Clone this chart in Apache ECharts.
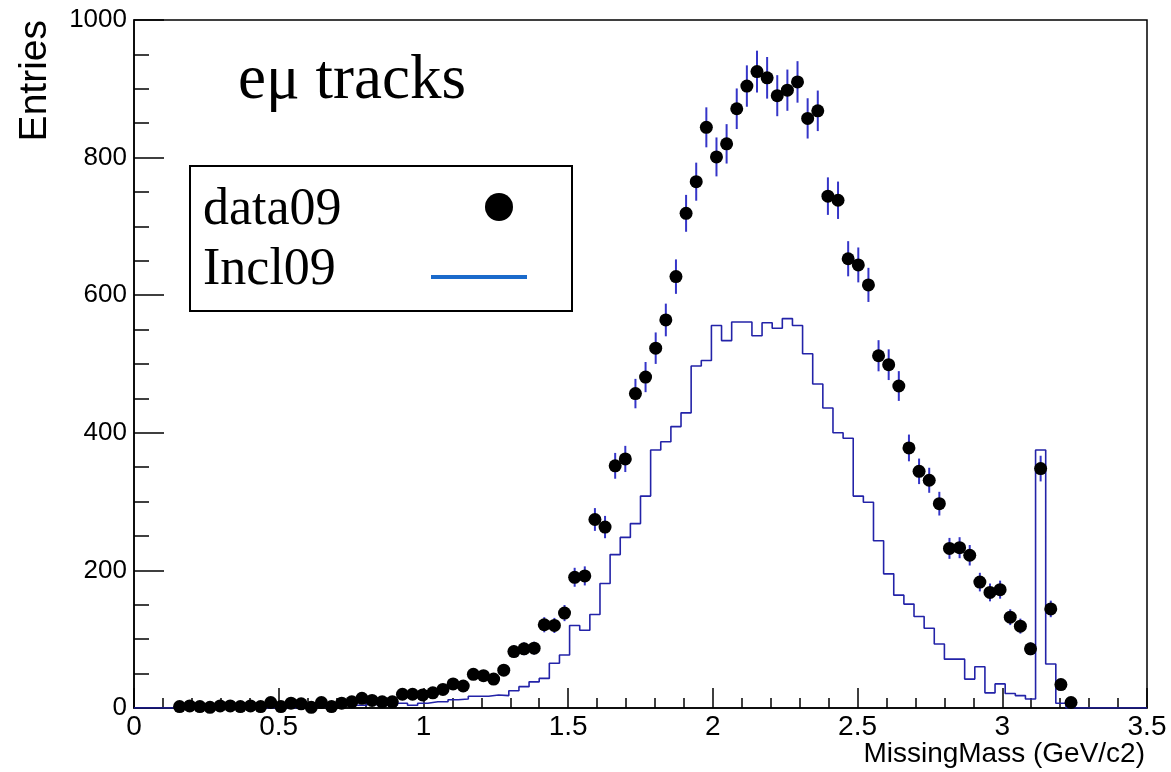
<!DOCTYPE html>
<html>
<head>
<meta charset="utf-8">
<script src="https://cdn.jsdelivr.net/npm/echarts@6/dist/echarts.min.js"></script>
<style>
  html, body { margin: 0; padding: 0; background: #fff; }
  #chart { width: 1171px; height: 772px; }
</style>
</head>
<body>
<div id="chart"></div>
<script>
// 100 bins of 0.035 GeV/c2 from 0 to 3.5
var binWidth = 0.035;

// Incl09 histogram, one value per bin (bins 0..99)
var histCounts = [
  0, 0, 0, 0, 0, 0, 0, 0, 0, 0,
  0, 0, 0, 0, 0, 0, 0, 1, 1, 3,
  4, 4, 4, 7, 4, 4, 7, 4, 7, 9,
  9, 12, 13, 17, 17, 19, 18, 25, 31, 38,
  43, 65, 77, 120, 113, 136, 181, 223, 248, 268,
  308, 375, 387, 409, 429, 497, 505, 556, 534, 561,
  561, 541, 560, 552, 566, 556, 515, 471, 436, 400,
  392, 308, 299, 243, 195, 164, 151, 133, 116, 93,
  71, 71, 42, 60, 22, 35, 21, 18, 13, 375,
  64, 7, 0, 0, 0, 0, 0, 0, 0, 0
];

// data09 points, bins 4..92
var dataFirstBin = 4;
var dataCounts = [
  2, 3, 2, 1, 3, 3, 2, 3, 2, 8,
  2, 7, 6, 1, 8, 2, 7, 9, 14, 11,
  9, 9, 20, 20, 19, 22, 27, 35, 32, 49,
  47, 42, 55, 82, 86, 87, 121, 120, 138, 190,
  192, 274, 263, 352, 362, 457, 481, 523, 564, 627,
  719, 765, 844, 801, 820, 871, 904, 925, 916, 890,
  898, 910, 857, 868, 744, 738, 653, 644, 615, 512,
  499, 468, 378, 344, 331, 297, 232, 233, 222, 183,
  168, 172, 132, 119, 86, 348, 144, 34, 8
];

var xTitle = 'MissingMass (GeV/c2)';
var yTitle = 'Entries';

// histogram outline: lower edge of each bin, closed at 3.5
var histLine = histCounts.map(function (v, i) { return [i * binWidth, v]; });
histLine.push([histCounts.length * binWidth, histCounts[histCounts.length - 1]]);

// points at bin centres, poisson errors
var points = dataCounts.map(function (v, i) {
  return [(dataFirstBin + i + 0.5) * binWidth, v, Math.sqrt(v)];
});

var chart = echarts.init(document.getElementById('chart'));
var axisFont = 'Liberation Sans, Arial, sans-serif';
var serif = 'Liberation Serif, Times New Roman, serif';

var option = {
  animation: false,
  backgroundColor: '#fff',
  grid: {
    left: 134, right: 24, top: 20, bottom: 64,
    show: true, borderColor: '#000', borderWidth: 1.5,
    outerBoundsMode: 'none'
  },
  xAxis: {
    type: 'value', min: 0, max: 3.5, interval: 0.5,
    axisLine: { show: true, onZero: false, lineStyle: { color: '#000', width: 1.5 } },
    axisTick: { show: true, inside: true, length: 20, lineStyle: { color: '#000', width: 1.5 } },
    minorTick: { show: true, splitNumber: 5, length: 10, lineStyle: { color: '#000', width: 1.5 } },
    splitLine: { show: false },
    axisLabel: { color: '#000', fontSize: 28, fontFamily: axisFont, margin: 5 },
    name: xTitle,
    nameLocation: 'end',
    nameGap: -2,
    nameMoveOverlap: false,
    nameTextStyle: {
      color: '#000', fontSize: 28, fontFamily: axisFont,
      align: 'right', verticalAlign: 'top', padding: [32, 0, 0, 0]
    }
  },
  yAxis: {
    type: 'value', min: 0, max: 1000, interval: 200,
    axisLine: { show: true, onZero: false, lineStyle: { color: '#000', width: 1.5 } },
    axisTick: { show: true, inside: true, length: 30, lineStyle: { color: '#000', width: 1.5 } },
    minorTick: { show: true, splitNumber: 4, length: 15, lineStyle: { color: '#000', width: 1.5 } },
    splitLine: { show: false },
    axisLabel: {
      color: '#000', fontSize: 26, fontFamily: axisFont, margin: 7,
      formatter: function (v) { return String(v); }
    },
    name: yTitle,
    nameLocation: 'end',
    nameGap: 0,
    nameRotate: 90,
    nameMoveOverlap: false,
    nameTextStyle: {
      color: '#000', fontSize: 39, fontFamily: axisFont,
      align: 'right', verticalAlign: 'bottom', padding: [0, 0, 79, 0]
    }
  },
  series: [
    {
      name: 'Incl09',
      type: 'line',
      step: 'end',
      data: histLine,
      showSymbol: false,
      symbol: 'none',
      lineStyle: { color: '#2323a8', width: 1.6 },
      z: 2
    },
    {
      name: 'data09 errors',
      type: 'custom',
      data: points,
      renderItem: function (params, api) {
        var x = api.value(0), y = api.value(1), e = api.value(2);
        var top = api.coord([x, y + e]);
        var bot = api.coord([x, Math.max(0, y - e)]);
        return {
          type: 'line',
          shape: { x1: top[0], y1: top[1], x2: bot[0], y2: bot[1] },
          style: { stroke: '#3535c8', lineWidth: 2 }
        };
      },
      z: 3
    },
    {
      name: 'data09',
      type: 'scatter',
      data: points.map(function (p) { return [p[0], p[1]]; }),
      symbol: 'circle',
      symbolSize: 13,
      itemStyle: { color: '#000', opacity: 1 },
      z: 4
    }
  ],
  graphic: [
    {
      type: 'text', left: 238, top: 50, z: 10,
      style: { text: 'e\u03bc tracks', font: '63px ' + serif, fill: '#000' }
    },
    {
      type: 'rect', z: 10,
      shape: { x: 190, y: 166, width: 382, height: 145 },
      style: { fill: '#fff', stroke: '#000', lineWidth: 2 }
    },
    {
      type: 'text', x: 203, y: 210, z: 11,
      style: { text: 'data09', font: '52px ' + serif, fill: '#000', verticalAlign: 'middle' }
    },
    {
      type: 'text', x: 203, y: 270, z: 11,
      style: { text: 'Incl09', font: '52px ' + serif, fill: '#000', verticalAlign: 'middle' }
    },
    {
      type: 'circle', z: 11,
      shape: { cx: 499, cy: 207, r: 14 },
      style: { fill: '#000' }
    },
    {
      type: 'line', z: 11,
      shape: { x1: 431, y1: 277, x2: 527, y2: 277 },
      style: { stroke: '#1a6acb', lineWidth: 4 }
    }
  ]
};

chart.setOption(option);
</script>
</body>
</html>
